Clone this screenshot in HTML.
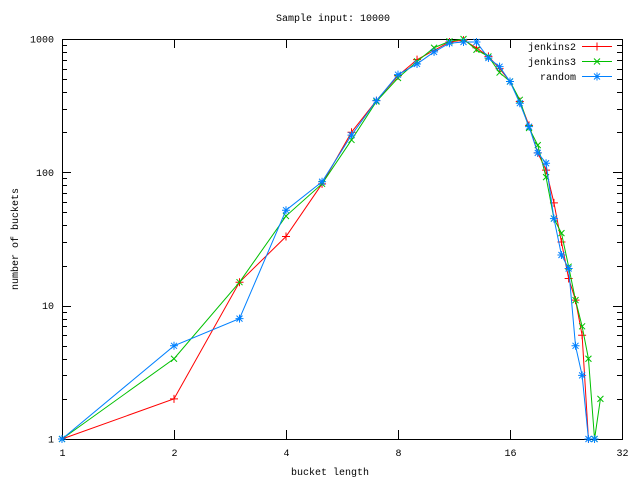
<!DOCTYPE html>
<html><head><meta charset="utf-8"><style>
body{margin:0;background:#fff}
svg text{font-family:"Liberation Mono",monospace;font-size:10px;fill:#000}
</style></head><body>
<svg id="s" width="640" height="480" xmlns="http://www.w3.org/2000/svg"></svg>
<script>
const s=document.getElementById('s');
const X=n=>62+112*Math.log2(n), Y=v=>439-133.333*Math.log10(v);
let h='';
h+='<rect x="62.5" y="39.5" width="560" height="400" fill="none" stroke="#000" stroke-width="1"/>';
for(let d=0;d<3;d++)for(let m=1;m<10;m++){const v=m*Math.pow(10,d);const y=Math.round(Y(v))+0.5;const L=m==1?9:5;
 h+=`<line x1="62" y1="${y}" x2="${62+L}" y2="${y}" stroke="#000"/><line x1="622" y1="${y}" x2="${622-L}" y2="${y}" stroke="#000"/>`;}
[[1,'1'],[10,'10'],[100,'100'],[1000,'1000']].forEach(([v,t])=>{h+=`<text x="54" y="${Y(v)+3.5}" text-anchor="end">${t}</text>`;});
[1,2,4,8,16,32].forEach(n=>{const x=Math.round(X(n))+0.5;h+=`<line x1="${x}" y1="439" x2="${x}" y2="430" stroke="#000"/><line x1="${x}" y1="39" x2="${x}" y2="48" stroke="#000"/><text x="${x}" y="456" text-anchor="middle">${n}</text>`;});
h+='<text x="333" y="21" text-anchor="middle">Sample input: 10000</text>';
h+='<text x="330" y="475" text-anchor="middle">bucket length</text>';
h+='<text transform="translate(18,239) rotate(-90)" text-anchor="middle">number of buckets</text>';
const R=[1,2,15,33,82,200,345,530,700,820,950,980,860,740,600,480,340,225,140,104,59,30,16,11,6,1];
const G=[1,4,15,47,82,175,340,510,680,860,960,1000,830,740,560,480,350,215,160,92,45,35,19.6,11,7,4,1,2];
const B=[1,5,8,52,85,190,345,540,650,800,930,950,950,720,620,480,330,220,140,117,45,24,19,5,3,1,1];
function pt(t,x,y,c){const a=4;let p='';
 if(t!='x')p+=`M${x-a} ${y}H${x+a}M${x} ${y-a}V${y+a}`;
 if(t!='+')p+=`M${x-a+1} ${y-a+1}L${x+a-1} ${y+a-1}M${x-a+1} ${y+a-1}L${x+a-1} ${y-a+1}`;
 return `<path d="${p}" stroke="${c}" fill="none"/>`;}
function ser(d,c,t,name,ly){const ps=d.map((v,i)=>[X(i+1),Y(v)]);
 h+=`<polyline points="${ps.map(p=>p.join(',')).join(' ')}" fill="none" stroke="${c}"/>`;
 ps.forEach(p=>h+=pt(t,p[0],p[1],c));
 h+=`<text x="576" y="${ly+3.5}" text-anchor="end">${name}</text><line x1="582" y1="${ly}" x2="612" y2="${ly}" stroke="${c}"/>`+pt(t,597,ly,c);}
ser(R,'#ff0000','+','jenkins2',46.5);
ser(G,'#00c000','x','jenkins3',61.5);
ser(B,'#0080ff','*','random',76.5);
s.innerHTML=h;
</script>
</body></html>
